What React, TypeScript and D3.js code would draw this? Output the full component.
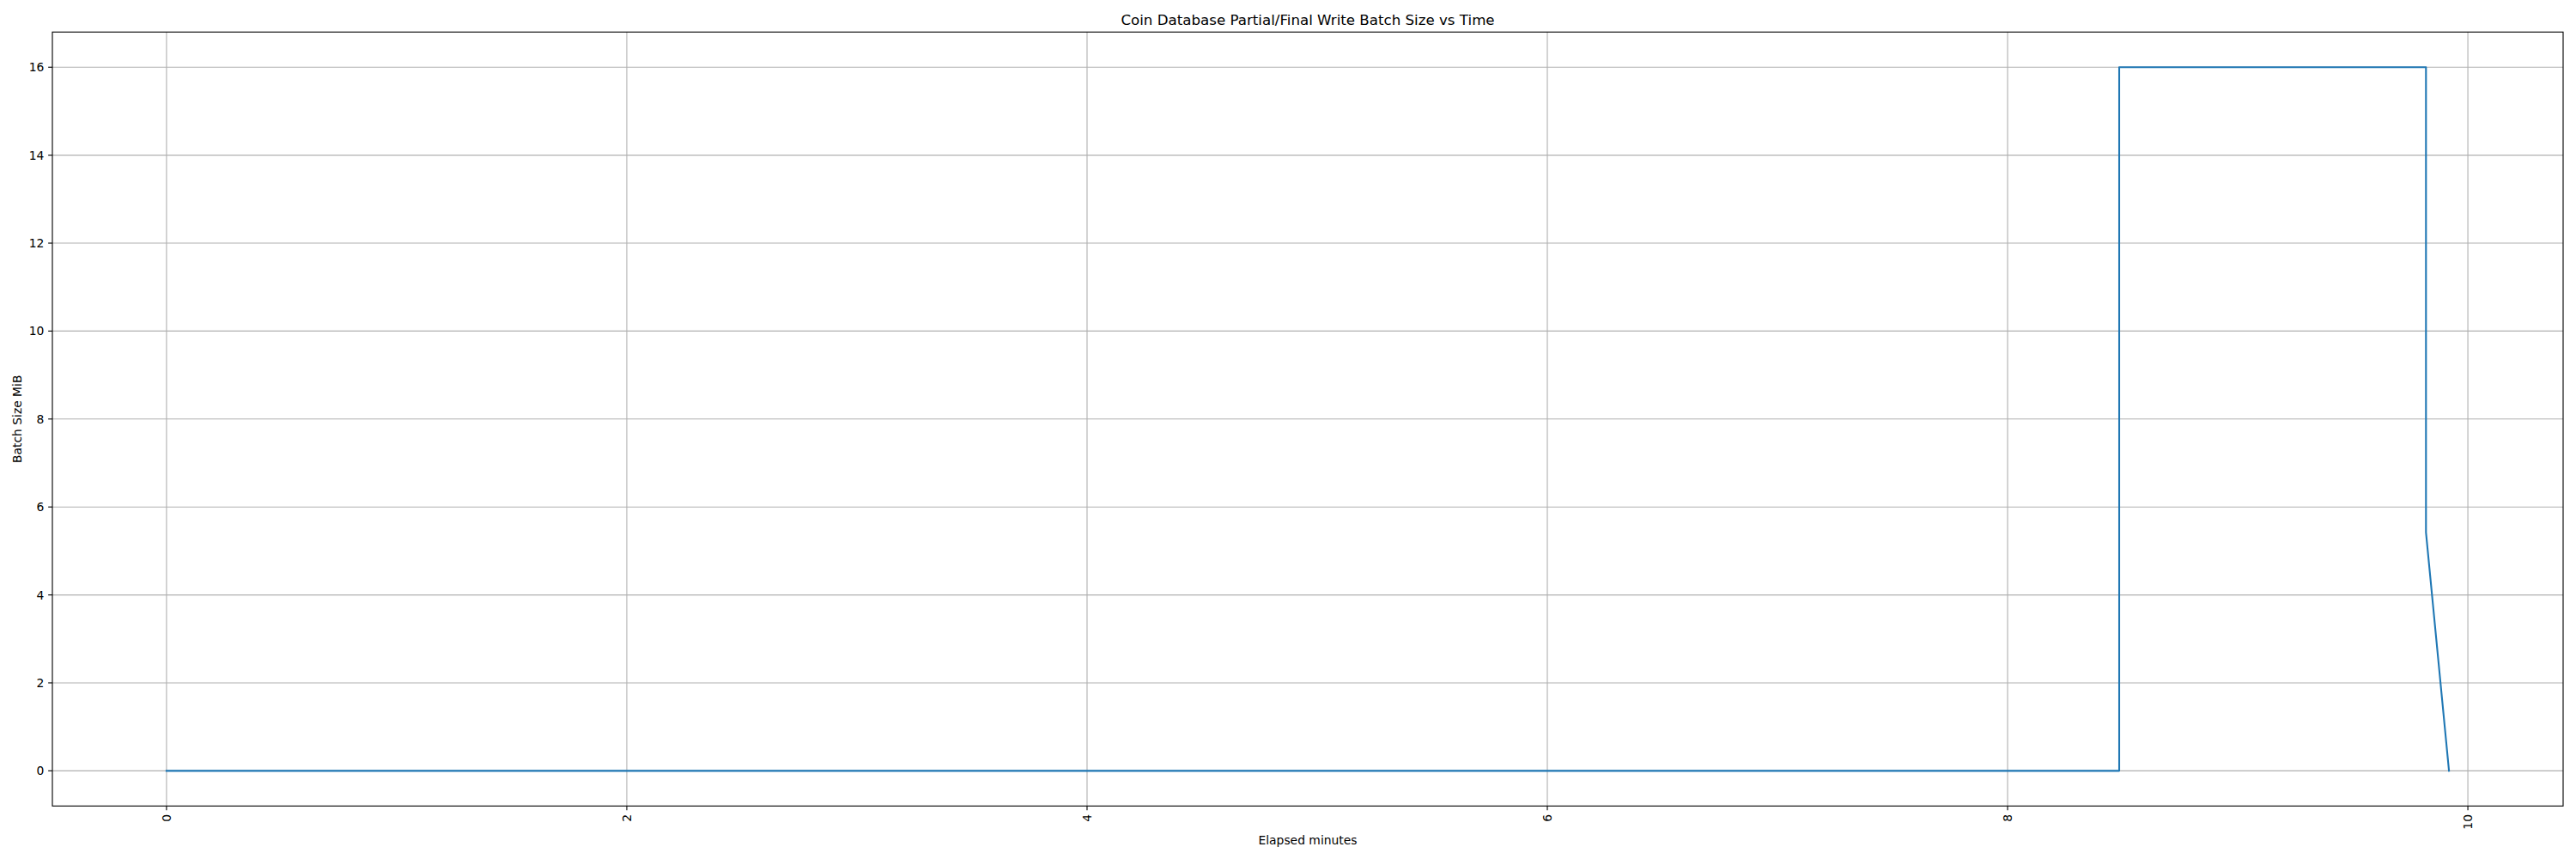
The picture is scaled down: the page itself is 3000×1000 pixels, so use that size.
import * as d3 from 'd3'

// elapsed time (minutes) and batch size (MiB) samples
const elapsedMinutes = [0, 8.485, 8.485, 9.818, 9.818, 9.918]
const batchSizeMiB = [0, 0, 16, 16, 5.42, 0]

const xTicks = [0, 2, 4, 6, 8, 10]
const yTicks = [0, 2, 4, 6, 8, 10, 12, 14, 16]

const title = 'Coin Database Partial/Final Write Batch Size vs Time'
const xLabel = 'Elapsed minutes'
const yLabel = 'Batch Size MiB'

const WIDTH = 3000
const HEIGHT = 1000
const margin = { top: 37.3, right: 15, bottom: 61.7, left: 61 }
const FONT = '"DejaVu Sans", sans-serif'

export default function App() {
  const innerW = WIDTH - margin.left - margin.right
  const innerH = HEIGHT - margin.top - margin.bottom

  const xMin = d3.min(elapsedMinutes)!
  const xMax = d3.max(elapsedMinutes)!
  const xPad = (xMax - xMin) * 0.05
  const x = d3.scaleLinear().domain([xMin - xPad, xMax + xPad]).range([0, innerW])

  const yMin = d3.min(batchSizeMiB)!
  const yMax = d3.max(batchSizeMiB)!
  const yPad = (yMax - yMin) * 0.05
  const y = d3.scaleLinear().domain([yMin - yPad, yMax + yPad]).range([innerH, 0])

  const points = elapsedMinutes.map((t, i) => [t, batchSizeMiB[i]] as [number, number])
  const line = d3.line<[number, number]>()
    .x(d => x(d[0]))
    .y(d => y(d[1]))

  const tickLen = 4.86
  const tickPad = 4.86

  return (
    <svg
      width={WIDTH}
      height={HEIGHT}
      style={{ position: 'absolute', left: 0, top: 0, background: '#fff' }}
      fontFamily={FONT}
    >
      <rect width={WIDTH} height={HEIGHT} fill="#fff" />
      <text
        x={margin.left + innerW / 2}
        y={29}
        textAnchor="middle"
        fontSize={16.67}
        fill="#000"
      >
        {title}
      </text>

      <g transform={`translate(${margin.left},${margin.top})`}>
        {/* grid */}
        {xTicks.map(t => (
          <line key={`gx${t}`} x1={x(t)} x2={x(t)} y1={0} y2={innerH} stroke="#b0b0b0" strokeWidth={1.11} />
        ))}
        {yTicks.map(t => (
          <line key={`gy${t}`} x1={0} x2={innerW} y1={y(t)} y2={y(t)} stroke="#b0b0b0" strokeWidth={1.11} />
        ))}

        {/* series */}
        <path d={line(points) ?? ''} fill="none" stroke="#1f77b4" strokeWidth={2.08} strokeLinejoin="round" strokeLinecap="square" />

        {/* frame */}
        <rect x={0} y={0} width={innerW} height={innerH} fill="none" stroke="#000" strokeWidth={1.11} />

        {/* x ticks */}
        {xTicks.map(t => (
          <g key={`tx${t}`} transform={`translate(${x(t)},${innerH})`}>
            <line y1={0} y2={tickLen} stroke="#000" strokeWidth={1.11} />
            <text
              transform={`translate(0,${tickLen + tickPad}) rotate(-90)`}
              textAnchor="end"
              dominantBaseline="central"
              fontSize={13.89}
              fill="#000"
            >
              {t}
            </text>
          </g>
        ))}

        {/* y ticks */}
        {yTicks.map(t => (
          <g key={`ty${t}`} transform={`translate(0,${y(t)})`}>
            <line x1={0} x2={-tickLen} stroke="#000" strokeWidth={1.11} />
            <text
              x={-(tickLen + tickPad)}
              textAnchor="end"
              dominantBaseline="central"
              fontSize={13.89}
              fill="#000"
            >
              {t}
            </text>
          </g>
        ))}
      </g>

      <text x={margin.left + innerW / 2} y={983} textAnchor="middle" fontSize={13.89} fill="#000">
        {xLabel}
      </text>
      <text
        transform={`translate(25,${margin.top + innerH / 2}) rotate(-90)`}
        textAnchor="middle"
        fontSize={13.89}
        fill="#000"
      >
        {yLabel}
      </text>
    </svg>
  )
}
